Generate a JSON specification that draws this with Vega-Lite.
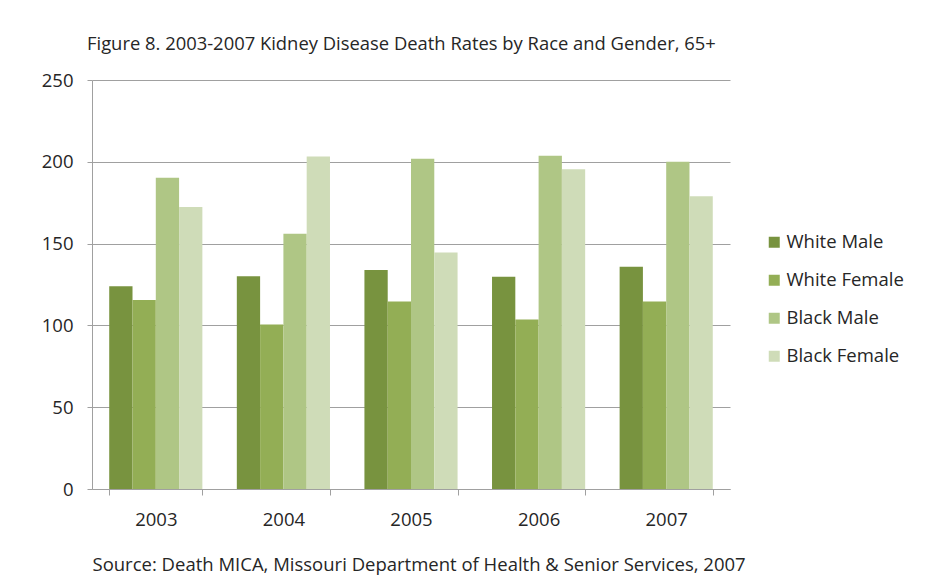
{
  "$schema": "https://vega.github.io/schema/vega-lite/v6.json",
  "width": 638,
  "height": 409,
  "autosize": {"type": "none"},
  "padding": {"left": 92, "top": 80, "right": 197, "bottom": 89},
  "background": "white",
  "title": {
    "text": "Figure 8. 2003-2007 Kidney Disease Death Rates by Race and Gender, 65+",
    "anchor": "start",
    "frame": "group",
    "dx": -5,
    "offset": 18,
    "font": "Open Sans",
    "fontSize": 18.4,
    "fontWeight": "normal",
    "color": "#262626"
  },
  "data": {
    "values": [
      {"year": "2003", "group": "White Male", "rate": 124},
      {"year": "2003", "group": "White Female", "rate": 115.5},
      {"year": "2003", "group": "Black Male", "rate": 190.2},
      {"year": "2003", "group": "Black Female", "rate": 172.3},
      {"year": "2004", "group": "White Male", "rate": 130},
      {"year": "2004", "group": "White Female", "rate": 100.6},
      {"year": "2004", "group": "Black Male", "rate": 156},
      {"year": "2004", "group": "Black Female", "rate": 203.2},
      {"year": "2005", "group": "White Male", "rate": 133.8},
      {"year": "2005", "group": "White Female", "rate": 114.6},
      {"year": "2005", "group": "Black Male", "rate": 201.8},
      {"year": "2005", "group": "Black Female", "rate": 144.6},
      {"year": "2006", "group": "White Male", "rate": 129.8},
      {"year": "2006", "group": "White Female", "rate": 103.6},
      {"year": "2006", "group": "Black Male", "rate": 203.7},
      {"year": "2006", "group": "Black Female", "rate": 195.5},
      {"year": "2007", "group": "White Male", "rate": 135.9},
      {"year": "2007", "group": "White Female", "rate": 114.6},
      {"year": "2007", "group": "Black Male", "rate": 200},
      {"year": "2007", "group": "Black Female", "rate": 179}
    ]
  },
  "mark": {"type": "bar"},
  "encoding": {
    "x": {
      "field": "year",
      "type": "nominal",
      "scale": {"paddingInner": 0.27, "paddingOuter": 0.135},
      "axis": {
        "title": "Source: Death MICA, Missouri Department of Health & Senior Services, 2007",
        "titleAnchor": "start",
        "titleFont": "Open Sans",
        "titleFontSize": 18.5,
        "titleFontWeight": "normal",
        "titleColor": "#262626",
        "titlePadding": 27,
        "labelAngle": 0,
        "labelFont": "Open Sans",
        "labelFontSize": 18.5,
        "labelColor": "#262626",
        "labelPadding": 15,
        "tickBand": "extent",
        "tickSize": 6,
        "tickColor": "#A0A0A0",
        "domainColor": "#A0A0A0",
        "grid": false
      }
    },
    "xOffset": {
      "field": "group",
      "type": "nominal",
      "sort": ["White Male", "White Female", "Black Male", "Black Female"]
    },
    "y": {
      "field": "rate",
      "type": "quantitative",
      "scale": {"domain": [0, 250]},
      "axis": {
        "title": null,
        "values": [0, 50, 100, 150, 200, 250],
        "labelFont": "Open Sans",
        "labelFontSize": 18.5,
        "labelColor": "#262626",
        "labelPadding": 14,
        "tickSize": 5,
        "tickColor": "#A0A0A0",
        "domainColor": "#A0A0A0",
        "gridColor": "#A0A0A0",
        "gridOpacity": 1
      }
    },
    "color": {
      "field": "group",
      "type": "nominal",
      "sort": ["White Male", "White Female", "Black Male", "Black Female"],
      "scale": {
        "domain": ["White Male", "White Female", "Black Male", "Black Female"],
        "range": ["#78933F", "#93AE55", "#AFC685", "#CFDCB8"]
      },
      "legend": {
        "title": null,
        "orient": "none",
        "legendX": 673,
        "legendY": 153,
        "symbolType": "square",
        "symbolSize": 121,
        "symbolStrokeWidth": 0,
        "labelFont": "Open Sans",
        "labelFontSize": 18.5,
        "labelColor": "#262626",
        "labelOffset": 3,
        "rowPadding": 19
      }
    }
  },
  "config": {
    "view": {"stroke": null}
  }
}
